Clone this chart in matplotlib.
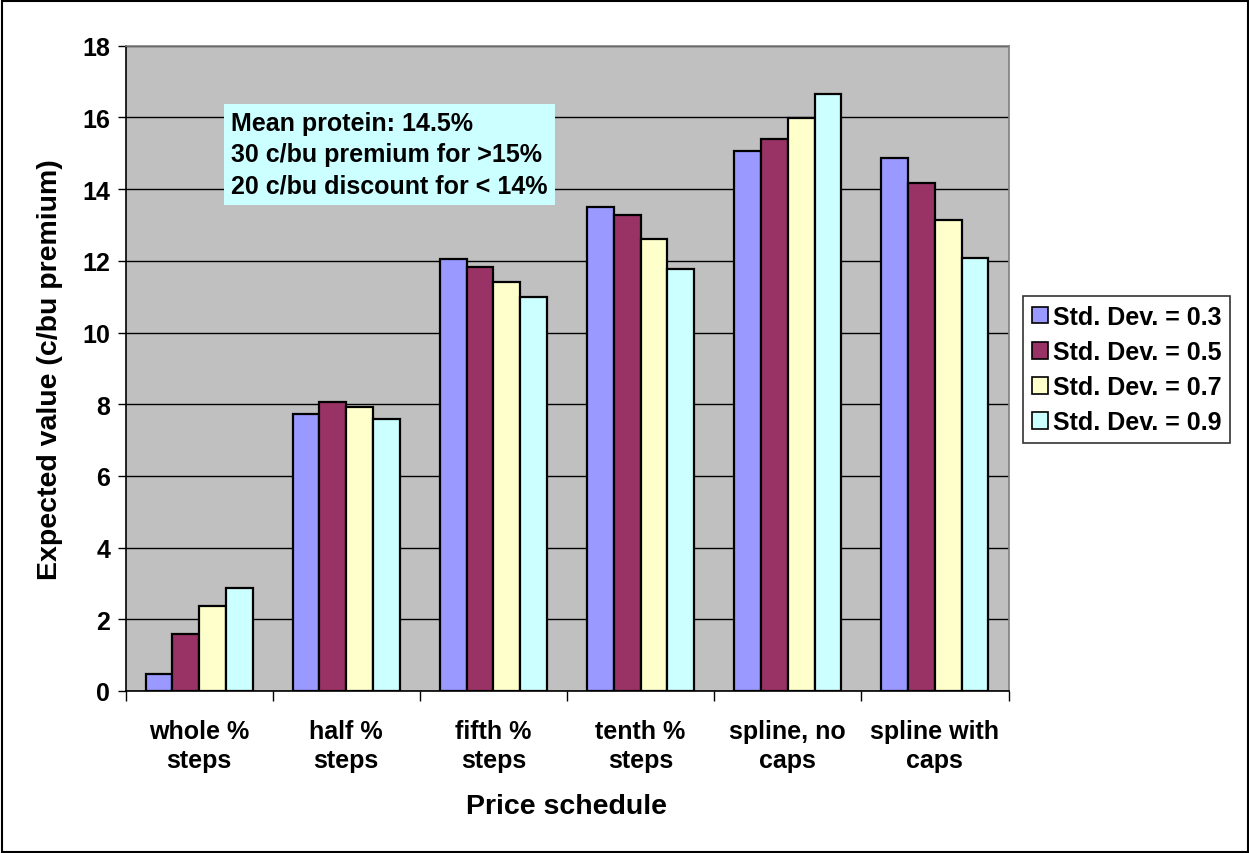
import matplotlib
matplotlib.use("Agg")
import matplotlib.pyplot as plt
from matplotlib.patches import Rectangle, Patch
import numpy as np

plt.rcParams['font.family'] = ['Liberation Sans', 'DejaVu Sans']
plt.rcParams['font.weight'] = 'bold'

categories = ["whole %\nsteps", "half %\nsteps", "fifth %\nsteps",
              "tenth %\nsteps", "spline, no\ncaps", "spline with\ncaps"]
series_names = ["Std. Dev. = 0.3", "Std. Dev. = 0.5",
                "Std. Dev. = 0.7", "Std. Dev. = 0.9"]
sd_03 = [0.47, 7.73, 12.05, 13.51, 15.07, 14.88]
sd_05 = [1.58, 8.06, 11.84, 13.29, 15.41, 14.17]
sd_07 = [2.36, 7.91, 11.41, 12.61, 15.97, 13.13]
sd_09 = [2.87, 7.60, 11.00, 11.76, 16.64, 12.09]
colors = ["#9999FF", "#993366", "#FFFFCC", "#CCFFFF"]
y_ticks = list(range(0, 19, 2))
note = "Mean protein: 14.5%\n30 c/bu premium for >15%\n20 c/bu discount for < 14%"

W, H = 1249, 854
fig = plt.figure(figsize=(W / 100, H / 100), dpi=100)
fig.patch.set_facecolor("white")

left, right, top, bottom = 125.5, 1008.5, 46.7, 692.0
ax = fig.add_axes([left / W, 1 - bottom / H, (right - left) / W, (bottom - top) / H])
ax.set_facecolor("#C0C0C0")

series = [sd_03, sd_05, sd_07, sd_09]
n = len(series)
gap = 1.5
bw = 1.0 / (n + gap)
x = np.arange(len(categories))
for i, (vals, col, name) in enumerate(zip(series, colors, series_names)):
    offs = (i - (n - 1) / 2) * bw
    ax.bar(x + offs, vals, width=bw, color=col, edgecolor="black",
           linewidth=1.6, label=name, zorder=3)

FS = 18
ax.set_xlim(-0.5, len(categories) - 0.5)
ax.set_ylim(0, 18)
ax.set_yticks(y_ticks)
ax.set_yticklabels([str(t) for t in y_ticks], fontsize=FS, fontweight="bold")
ax.yaxis.grid(True, color="black", linewidth=1.0, zorder=0)
ax.set_axisbelow(True)

# category boundaries as major ticks, labels on minor ticks at centres
ax.set_xticks(np.arange(-0.5, len(categories), 1.0))
ax.set_xticklabels([])
ax.set_xticks(x, minor=True)
ax.set_xticklabels(categories, minor=True, fontsize=FS, fontweight="bold",
                   linespacing=1.27)
ax.tick_params(axis="x", which="major", length=7, width=1, color="black")
ax.tick_params(axis="x", which="minor", length=0, pad=20)
ax.tick_params(axis="y", length=6, width=1, color="black", pad=5)

for s in ["top", "right"]:
    ax.spines[s].set_color("#808080")
    ax.spines[s].set_linewidth(1.2)
for s in ["left", "bottom"]:
    ax.spines[s].set_color("black")
    ax.spines[s].set_linewidth(1.2)

ax.set_xlabel("Price schedule", fontsize=20.5, fontweight="bold", labelpad=15)
ax.set_ylabel("Expected value (c/bu premium)", fontsize=20.5, fontweight="bold",
              labelpad=14)

ax.text((231 - left) / (right - left), 1 - (112 - top) / (bottom - top), note,
        transform=ax.transAxes, ha="left", va="top", fontsize=FS,
        fontweight="bold", linespacing=1.38, zorder=5,
        bbox=dict(boxstyle="square,pad=0.3", facecolor="#CCFFFF",
                  edgecolor="none"))

handles = [Patch(facecolor=c, edgecolor="black", linewidth=1.2) for c in colors]
leg = fig.legend(handles, series_names, loc="upper left",
                 bbox_to_anchor=(1023 / W, 1 - 297 / H),
                 prop=dict(family="Liberation Sans", weight="bold", size=FS),
                 frameon=True, fancybox=False, edgecolor="black",
                 handlelength=0.65, handleheight=0.65, handletextpad=0.2,
                 labelspacing=0.45, borderpad=0.35, borderaxespad=0)
leg.get_frame().set_linewidth(1.2)

fig.patches.append(Rectangle((1.5 / W, 1.5 / H), 1 - 3 / W, 1 - 3 / H,
                             transform=fig.transFigure, fill=False,
                             edgecolor="black", linewidth=1.5))

fig.savefig("out.png", dpi=100)
